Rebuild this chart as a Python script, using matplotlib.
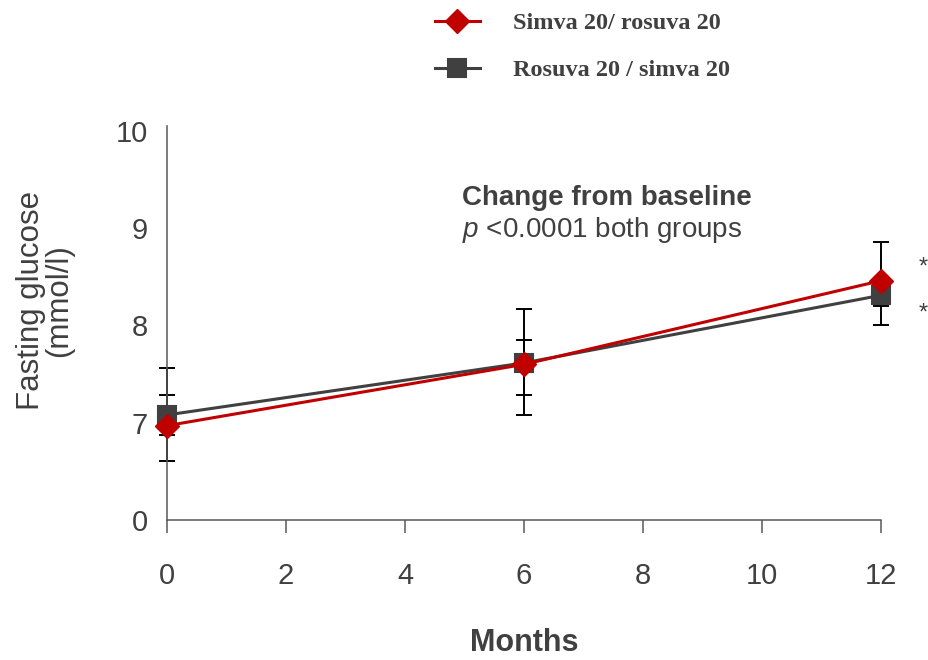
import matplotlib
matplotlib.use("Agg")
import matplotlib.pyplot as plt

plt.rcParams["font.family"] = ["Liberation Sans", "DejaVu Sans"]
plt.rcParams["mathtext.fontset"] = "custom"
plt.rcParams["mathtext.it"] = "Liberation Sans:italic"
plt.rcParams["mathtext.rm"] = "Liberation Sans"

# months of follow-up
months = [0, 6, 12]

# fasting glucose (mmol/l), mean with lower / upper error
simva_rosuva = [6.97, 7.60, 8.46]
simva_rosuva_lo = [0.36, 0.32, 0.46]
simva_rosuva_hi = [0.31, 0.25, 0.40]

rosuva_simva = [7.08, 7.615, 8.31]
rosuva_simva_lo = [0.21, 0.535, 0.11]
rosuva_simva_hi = [0.48, 0.555, 0.11]

series_labels = ["Simva 20/ rosuva 20", "Rosuva 20 / simva 20"]

# broken y axis: the "0" label sits one unit below 7
y_ticks = [6, 7, 8, 9, 10]
y_ticklabels = ["0", "7", "8", "9", "10"]
x_ticks = [0, 2, 4, 6, 8, 10, 12]

RED = "#C00000"
GRAY = "#404040"
TEXT = "#404040"

fig = plt.figure(figsize=(9.29, 6.60), dpi=100)
ax = fig.add_axes([0.1798, 0.2121, 0.7686, 0.5970])

for means, lo, hi in ((rosuva_simva, rosuva_simva_lo, rosuva_simva_hi),
                      (simva_rosuva, simva_rosuva_lo, simva_rosuva_hi)):
    eb = ax.errorbar(months, means, yerr=[lo, hi], fmt="none", ecolor="black",
                     elinewidth=1.4, capsize=6, capthick=1.4, zorder=2)
    for art in eb.lines[1] + eb.lines[2]:
        art.set_clip_on(False)

gray_line, = ax.plot(months, rosuva_simva, color=GRAY, lw=2.2, marker="s", markersize=13,
                     markeredgewidth=1.5, markeredgecolor=GRAY, markerfacecolor=GRAY,
                     solid_joinstyle="round", clip_on=False, zorder=3, label=series_labels[1])
red_line, = ax.plot(months, simva_rosuva, color=RED, lw=2.2, marker="D", markersize=12,
                    markeredgewidth=1.0, markeredgecolor=RED, markerfacecolor=RED,
                    clip_on=False, zorder=4, label=series_labels[0])

ax.set_xlim(0, 12)
ax.set_ylim(6, 10.05)
ax.set_xticks(x_ticks)
ax.set_yticks(y_ticks)
ax.set_yticklabels(y_ticklabels)

for side in ("top", "right"):
    ax.spines[side].set_visible(False)
for side in ("left", "bottom"):
    ax.spines[side].set_color("#595959")
    ax.spines[side].set_linewidth(1.1)

ax.tick_params(axis="x", direction="out", length=9.5, width=1.1, color="#595959",
               pad=21, labelsize=21, labelcolor=TEXT)
ax.tick_params(axis="y", length=0, pad=14, labelsize=21, labelcolor=TEXT)

ax.set_xlabel("Months", fontsize=22, fontweight="bold", color=TEXT, labelpad=27)
ax.text(-0.171, 0.558, "Fasting glucose\n(mmol/l)", transform=ax.transAxes, rotation=90,
        fontsize=22.5, color=TEXT, ha="center", va="center", linespacing=0.95)

ax.text(0.413, 0.818, "Change from baseline", transform=ax.transAxes, fontsize=20,
        fontweight="bold", color=TEXT, va="center", ha="left")
ax.text(0.413, 0.737, r"$\mathit{p}$ <0.0001 both groups", transform=ax.transAxes,
        fontsize=20, color=TEXT, va="center", ha="left")

# significance markers at 12 months
fig.text(0.999, 1 - 268 / 660, "*", fontsize=17, color=TEXT, ha="right", va="center")
fig.text(0.999, 1 - 314 / 660, "*", fontsize=17, color=TEXT, ha="right", va="center")

fig.legend(handles=[red_line, gray_line], loc="upper left", bbox_to_anchor=(0.455, 1.0),
           frameon=False, borderpad=0.0, handlelength=1.85, handletextpad=1.36,
           labelspacing=1.04, prop={"family": "Liberation Serif", "weight": "bold", "size": 17.5},
           labelcolor=TEXT)

fig.savefig("out.png", dpi=100)
